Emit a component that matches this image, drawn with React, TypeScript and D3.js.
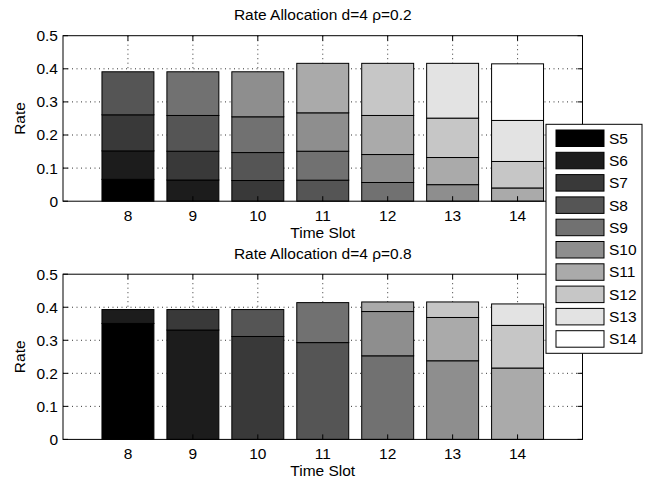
import React from 'react';
import * as d3 from 'd3';

const timeSlots = [8, 9, 10, 11, 12, 13, 14];
const seriesNames = ['S5', 'S6', 'S7', 'S8', 'S9', 'S10', 'S11', 'S12', 'S13', 'S14'];
const grayLevels = [0, 28, 57, 85, 113, 142, 170, 198, 227, 255];
const yTicks = [0, 0.1, 0.2, 0.3, 0.4, 0.5];
const yTickLabels = ['0', '0.1', '0.2', '0.3', '0.4', '0.5'];
const titles = ['Rate Allocation d=4 \u03c1=0.2', 'Rate Allocation d=4 \u03c1=0.8'];

// rho = 0.2, per source, over time slots 8..14
const low_S5 = [0.066, 0, 0, 0, 0, 0, 0];
const low_S6 = [0.086, 0.064, 0, 0, 0, 0, 0];
const low_S7 = [0.109, 0.087, 0.0625, 0, 0, 0, 0];
const low_S8 = [0.13, 0.108, 0.0845, 0.0635, 0, 0, 0];
const low_S9 = [0, 0.132, 0.108, 0.0875, 0.0565, 0, 0];
const low_S10 = [0, 0, 0.136, 0.116, 0.0845, 0.05, 0];
const low_S11 = [0, 0, 0, 0.1495, 0.118, 0.082, 0.04];
const low_S12 = [0, 0, 0, 0, 0.1575, 0.119, 0.08];
const low_S13 = [0, 0, 0, 0, 0, 0.1655, 0.124];
const low_S14 = [0, 0, 0, 0, 0, 0, 0.171];

// rho = 0.8
const high_S5 = [0.351, 0, 0, 0, 0, 0, 0];
const high_S6 = [0.042, 0.331, 0, 0, 0, 0, 0];
const high_S7 = [0, 0.062, 0.3115, 0, 0, 0, 0];
const high_S8 = [0, 0, 0.0815, 0.293, 0, 0, 0];
const high_S9 = [0, 0, 0, 0.121, 0.253, 0, 0];
const high_S10 = [0, 0, 0, 0, 0.134, 0.238, 0];
const high_S11 = [0, 0, 0, 0, 0.029, 0.131, 0.216];
const high_S12 = [0, 0, 0, 0, 0, 0.047, 0.129];
const high_S13 = [0, 0, 0, 0, 0, 0, 0.065];
const high_S14 = [0, 0, 0, 0, 0, 0, 0];

const lowSeries = [low_S5, low_S6, low_S7, low_S8, low_S9, low_S10, low_S11, low_S12, low_S13, low_S14];
const highSeries = [high_S5, high_S6, high_S7, high_S8, high_S9, high_S10, high_S11, high_S12, high_S13, high_S14];

const FONT = 'Liberation Sans, Arial, Helvetica, sans-serif';
const FS = 15.5;

const colorOf = (i: number) => `rgb(${grayLevels[i]},${grayLevels[i]},${grayLevels[i]})`;

const left = 63;
const right = 582.5;
const x = d3.scaleLinear().domain([7, 15]).range([left, right]);

function Panel({ series, top, bottom, title }: { series: number[][]; top: number; bottom: number; title: string }) {
  const y = d3.scaleLinear().domain([0, 0.5]).range([bottom, top]);
  const rows = timeSlots.map((t, j) => {
    const r: any = { t };
    seriesNames.forEach((s, i) => (r[s] = series[i][j]));
    return r;
  });
  const stacked = d3.stack<any>().keys(seriesNames)(rows);
  const bw = x(0.8) - x(0);
  const tl = 5;
  const cx = (left + right) / 2;
  return (
    <g>
      <rect x={left} y={top} width={right - left} height={bottom - top} fill="#fff" />
      {yTicks.slice(1, -1).map((v) => (
        <line key={'gy' + v} x1={left} x2={right} y1={y(v)} y2={y(v)} stroke="#000" strokeWidth={0.8} strokeDasharray="1,3.5" />
      ))}
      {timeSlots.map((v) => (
        <line key={'gx' + v} x1={x(v)} x2={x(v)} y1={top} y2={bottom} stroke="#000" strokeWidth={0.8} strokeDasharray="1,3.5" />
      ))}
      {stacked.map((layer, i) =>
        layer.map((d, j) =>
          d[1] - d[0] > 0 ? (
            <rect
              key={`b${i}-${j}`}
              x={x(timeSlots[j]) - bw / 2}
              y={y(d[1])}
              width={bw}
              height={y(d[0]) - y(d[1])}
              fill={colorOf(i)}
              stroke="#000"
              strokeWidth={1}
            />
          ) : null
        )
      )}
      {yTicks.map((v) => (
        <g key={'ty' + v}>
          <line x1={left} x2={left + tl} y1={y(v)} y2={y(v)} stroke="#000" />
          <line x1={right - tl} x2={right} y1={y(v)} y2={y(v)} stroke="#000" />
        </g>
      ))}
      {timeSlots.map((v) => (
        <g key={'tx' + v}>
          <line x1={x(v)} x2={x(v)} y1={bottom} y2={bottom - tl} stroke="#000" />
          <line x1={x(v)} x2={x(v)} y1={top} y2={top + tl} stroke="#000" />
        </g>
      ))}
      <rect x={left} y={top} width={right - left} height={bottom - top} fill="none" stroke="#000" strokeWidth={1} />
      {yTicks.map((v, i) => (
        <text key={'ly' + v} x={left - 5} y={y(v)} dy="0.35em" textAnchor="end" fontSize={FS} fontFamily={FONT} fill="#000">
          {yTickLabels[i]}
        </text>
      ))}
      {timeSlots.map((v) => (
        <text key={'lx' + v} x={x(v)} y={bottom + 20} textAnchor="middle" fontSize={FS} fontFamily={FONT} fill="#000">
          {v}
        </text>
      ))}
      <text x={cx} y={bottom + 37} textAnchor="middle" fontSize={FS} fontFamily={FONT} fill="#000">
        Time Slot
      </text>
      <text
        transform={`translate(${25},${(top + bottom) / 2}) rotate(-90)`}
        textAnchor="middle"
        fontSize={FS}
        fontFamily={FONT}
        fill="#000"
      >
        Rate
      </text>
      <text x={cx} y={top - 15.5} textAnchor="middle" fontSize={FS} fontFamily={FONT} fill="#000">
        {title}
      </text>
    </g>
  );
}

function Legend() {
  const lx = 546;
  const ly = 124.3;
  const w = 642 - lx;
  const h = 353.3 - ly;
  const step = 22.3;
  return (
    <g>
      <rect x={lx} y={ly} width={w} height={h} fill="#fff" stroke="#000" strokeWidth={1} />
      {seriesNames.map((s, i) => (
        <g key={s}>
          <rect x={556} y={130 + i * step} width={48} height={16.5} fill={colorOf(i)} stroke="#000" strokeWidth={1} />
          <text x={609} y={130 + i * step + 8.25} dy="0.35em" fontSize={FS} fontFamily={FONT} fill="#000">
            {s}
          </text>
        </g>
      ))}
    </g>
  );
}

export default function App() {
  return (
    <svg width={649} height={479} style={{ position: 'absolute', left: 0, top: 0, background: '#fff' }}>
      <rect width={649} height={479} fill="#fff" />
      <Panel series={lowSeries} top={35.7} bottom={201.2} title={titles[0]} />
      <Panel series={highSeries} top={274.2} bottom={439.4} title={titles[1]} />
      <Legend />
    </svg>
  );
}
